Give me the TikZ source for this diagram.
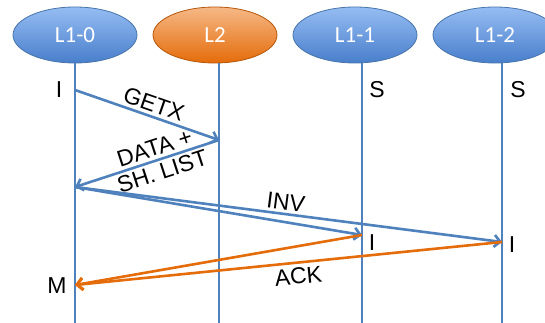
\documentclass[tikz,border=0pt]{standalone}
\usepackage{fontspec}
\setmainfont{Liberation Sans}
\newfontfamily\boxfont{Carlito}
\usetikzlibrary{shapes.geometric}
\usetikzlibrary{arrows.meta}

\definecolor{lineblue}{RGB}{79,129,189}
\definecolor{ackorange}{RGB}{228,108,10}

\begin{document}
\begin{tikzpicture}[x=1pt,y=-1pt,
    cache/.style={ellipse, draw=lineblue!90!black, line width=0.8pt,
      minimum width=124pt, minimum height=56pt, inner sep=0pt,
      top color={rgb,255:red,150;green,189;blue,243}, bottom color={rgb,255:red,72;green,126;blue,203},
      text=white, font=\boxfont\fontsize{23}{23}\selectfont},
    home/.style={cache, draw=ackorange!80!black,
      top color={rgb,255:red,246;green,184;blue,134}, bottom color=ackorange},
    life/.style={draw=lineblue, line width=2.6pt},
    msg/.style={draw=lineblue, line width=2.6pt, -{Straight Barb[length=6pt,width=12pt]}},
    ack/.style={msg, draw=ackorange},
    lbl/.style={font=\fontsize{23}{25}\selectfont, inner sep=2pt}]
  \useasboundingbox (0,0) rectangle (545,323);

  % caches on top
  \node[cache] (L10) at (75,35) {L1-0};
  \node[home]  (L2)  at (215,35) {L2};
  \node[cache] (L11) at (355,35) {L1-1};
  \node[cache] (L12) at (495,35) {L1-2};

  % life lines
  \draw[life] (L10.south) -- ++(0,260);
  \draw[life] ([xshift=4pt]L2.south) -- ++(0,260);
  \draw[life] ([xshift=7pt]L11.south) -- ++(0,260);
  \draw[life] ([xshift=7pt]L12.south) -- ++(0,260);

  % states before
  \node[lbl] (s0) at (59,90) {I};
  \node[lbl] (s1) at (377,90) {S};
  \node[lbl] (s2) at (518,90) {S};

  % end points of messages
  \coordinate (g0) at (75,90);
  \coordinate (g1) at (219,140);
  \coordinate (d0) at (75,187);
  \coordinate (v1) at (362,235);
  \coordinate (v2) at (502,242);
  \coordinate (a0) at (75,285);

  % request and data
  \draw[msg] (g0) -- node[lbl, pos=0.52, sloped, above, inner sep=3pt] (getx) {GETX} (g1);
  \draw[msg] (g1) -- node[lbl, pos=0.42, sloped, align=center] (data) {DATA +\\SH. LIST} (d0);

  % invalidations
  \draw[msg] (d0) -- (v1);
  \draw[msg] (d0) -- node[lbl, pos=0.49, sloped, above, inner sep=3pt] (inv) {INV} (v2);

  % acks
  \draw[ack] (v1) -- (a0);
  \draw[ack] (v2) -- node[lbl, pos=0.48, sloped, below, inner sep=4pt] (acklbl) {ACK} (a0);

  % states after
  \node[lbl] (s3) at (372,243) {I};
  \node[lbl] (s4) at (512,245) {I};
  \node[lbl] (s5) at (57,286) {M};
\end{tikzpicture}
\end{document}
